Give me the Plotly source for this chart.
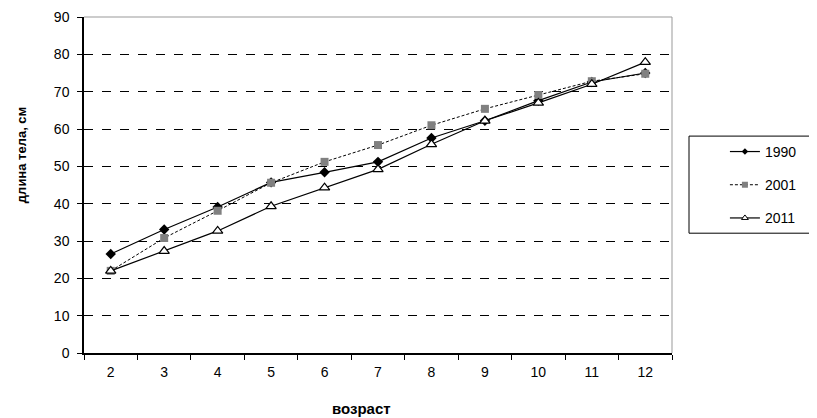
import plotly.graph_objects as go

ages = ["2", "3", "4", "5", "6", "7", "8", "9", "10", "11", "12"]
y1990 = [26.5, 33.1, 39.1, 45.7, 48.4, 51.2, 57.6, 62.2, 67.6, 72.6, 75.0]
y2001 = [22.0, 30.8, 38.1, 45.6, 51.2, 55.7, 61.0, 65.4, 69.1, 72.8, 74.8]
y2011 = [22.0, 27.3, 32.7, 39.3, 44.3, 49.2, 55.9, 62.2, 67.0, 72.0, 77.9]
y_ticks = [0, 10, 20, 30, 40, 50, 60, 70, 80, 90]
series_names = ["1990", "2001", "2011"]

FONT = "Liberation Sans, Arial, sans-serif"

styles = [
    dict(line=dict(color="black", width=1.2),
         marker=dict(symbol="diamond", size=8, color="black")),
    dict(line=dict(color="black", width=1, dash="3px,2px"),
         marker=dict(symbol="square", size=8, color="#808080")),
    dict(line=dict(color="black", width=1.2),
         marker=dict(symbol="triangle-up", size=9, color="white",
                     line=dict(color="black", width=1.2))),
]
legend_marker_sizes = [5, 6, 6]

fig = go.Figure()
for name, ys, st in zip(series_names, [y1990, y2001, y2011], styles):
    fig.add_trace(go.Scatter(x=ages, y=ys, name=name, mode="lines+markers",
                             showlegend=False, **st))
for i, (name, st) in enumerate(zip(series_names, styles)):
    mk = dict(st["marker"])
    mk["size"] = legend_marker_sizes[i]
    if "line" in mk:
        mk["line"] = dict(color="black", width=1)
    fig.add_trace(go.Scatter(x=[None], y=[None], name=name, mode="lines+markers",
                             line=st["line"], marker=mk, legendgroup="g" + name))

# page is offset by the body margin (8px), so figure is 8px smaller
W, H = 809, 410
L, T, R, B = 76, 9, 145, 65.3

fig.update_layout(
    width=W, height=H,
    margin=dict(l=L, r=R, t=T, b=B, autoexpand=False),
    paper_bgcolor="white", plot_bgcolor="white",
    font=dict(family=FONT, size=14, color="black"),
    showlegend=True,
    legend=dict(x=1.09, y=0.646, xanchor="left", yanchor="top",
                bgcolor="rgba(0,0,0,0)", borderwidth=0,
                tracegroupgap=12, font=dict(size=14),
                itemwidth=30),
    xaxis=dict(type="category", tickson="boundaries", ticks="outside",
               ticklen=5, tickcolor="black", showline=True,
               linecolor="black", linewidth=1.5, showgrid=False,
               mirror=False, range=[-0.5, 10.5], automargin=False,
               ticklabelstandoff=5),
    yaxis=dict(range=[0, 90], tickvals=y_ticks, ticks="outside", ticklen=5,
               tickcolor="black", showline=True, linecolor="black", linewidth=1.5,
               showgrid=True, gridcolor="black", griddash="dash", gridwidth=0.8,
               zeroline=False, automargin=False, ticklabelstandoff=5),
    annotations=[
        dict(text="<b>возраст</b>", xref="paper", yref="paper",
             x=(361 - 84) / 588, y=0, yshift=-55, xanchor="center", yanchor="middle",
             showarrow=False, font=dict(size=15)),
        dict(text="<b>длина тела, см</b>", xref="paper", yref="y",
             x=0, xshift=-63, y=53, xanchor="center", yanchor="middle",
             textangle=-90, showarrow=False, font=dict(size=13)),
    ],
    shapes=[
        dict(type="line", xref="paper", yref="paper", x0=1, x1=1, y0=0, y1=1,
             line=dict(color="#999999", width=1)),
        dict(type="line", xref="paper", yref="paper", x0=0, x1=1, y0=1, y1=1,
             line=dict(color="#999999", width=1)),
        dict(type="rect", xref="paper", yref="paper",
             x0=(689 - 84) / 588, x1=(816 - 84) / 588,
             y0=(352.7 - 233) / 335.7, y1=(352.7 - 136) / 335.7,
             line=dict(color="black", width=1)),
    ],
)

fig.write_html("out.html")
